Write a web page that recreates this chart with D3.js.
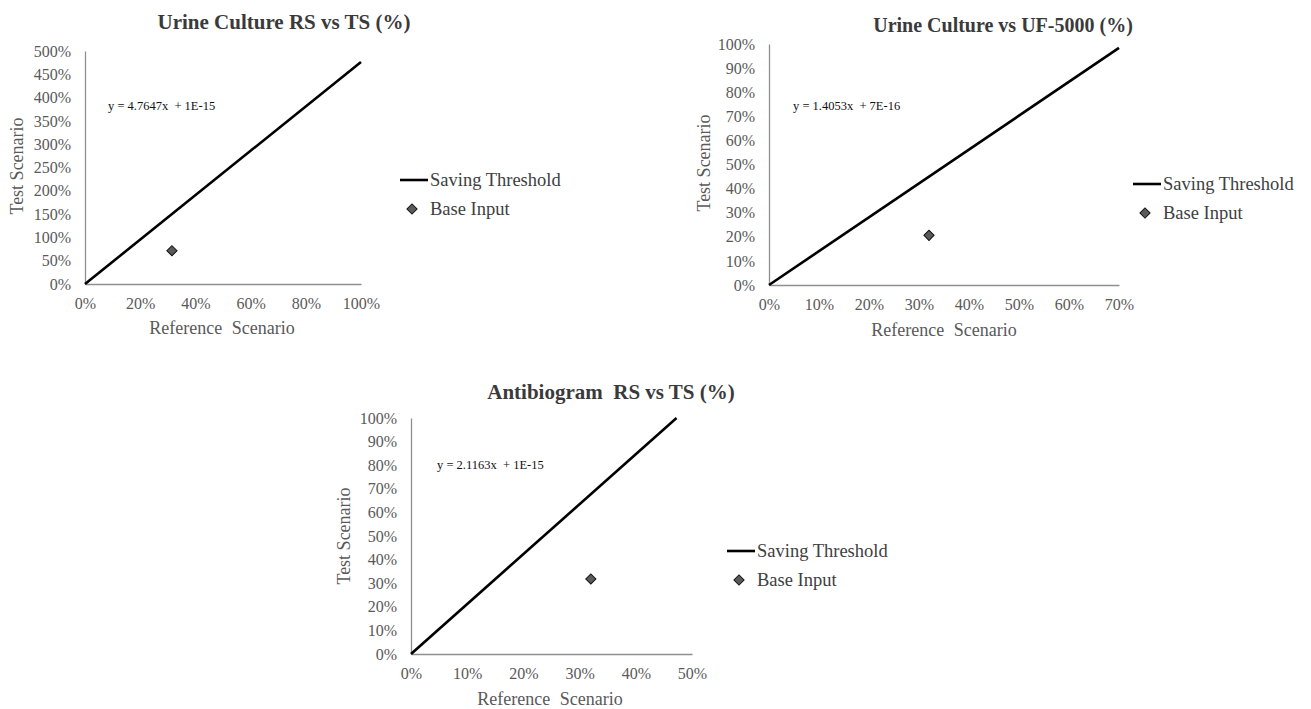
<!DOCTYPE html>
<html>
<head>
<meta charset="utf-8">
<script src="https://cdn.jsdelivr.net/npm/d3@7"></script>
<style>
  body { margin: 0; background: #fff; }
  text { font-family: "Liberation Serif", "Times New Roman", serif; }
</style>
</head>
<body>
<div id="chart"></div>
<script>
// chart values
let titles = ["Urine Culture RS vs TS (%)", "Urine Culture vs UF-5000 (%)", "Antibiogram  RS vs TS (%)"]
let equations = ["y = 4.7647x  + 1E-15", "y = 1.4053x  + 7E-16", "y = 2.1163x  + 1E-15"]
let xDomains = [[0, 1.0], [0, 0.7], [0, 0.5]]
let yDomains = [[0, 5.0], [0, 1.0], [0, 1.0]]
let xTicks = [
    [0, 0.2, 0.4, 0.6, 0.8, 1.0],
    [0, 0.1, 0.2, 0.3, 0.4, 0.5, 0.6, 0.7],
    [0, 0.1, 0.2, 0.3, 0.4, 0.5]
]
let yTicks = [
    [0, 0.5, 1.0, 1.5, 2.0, 2.5, 3.0, 3.5, 4.0, 4.5, 5.0],
    [0, 0.1, 0.2, 0.3, 0.4, 0.5, 0.6, 0.7, 0.8, 0.9, 1.0],
    [0, 0.1, 0.2, 0.3, 0.4, 0.5, 0.6, 0.7, 0.8, 0.9, 1.0]
]
// saving threshold line end points (x, y)
let thresholdLines = [
    [[0, 0], [1.0, 4.7647]],
    [[0, 0], [0.7, 0.9837]],
    [[0, 0], [0.4725, 1.0]]
]
// base input point (x, y)
let baseInputs = [[0.315, 0.714], [0.32, 0.206], [0.32, 0.318]]
let legendLabels = ["Saving Threshold", "Base Input"]

// where each panel sits on the page
let layout = [
    {left: 85, right: 361, bottom: 284, top: 51, titleX: 284, titleY: 22, titleSize: 21,
        eqX: 108, eqY: 106, yLabX: 17, yLabY: 166, xLabX: 222, xLabY: 328, legX: 400, legY: 180},
    {left: 769, right: 1119, bottom: 285, top: 44, titleX: 1003, titleY: 25, titleSize: 20,
        eqX: 793, eqY: 106, yLabX: 704, yLabY: 163, xLabX: 944, xLabY: 330, legX: 1133, legY: 184},
    {left: 411, right: 692, bottom: 654, top: 418, titleX: 611, titleY: 392, titleSize: 21,
        eqX: 437, eqY: 465, yLabX: 344, yLabY: 536, xLabX: 550, xLabY: 699, legX: 727, legY: 551}
]

let svg = d3.select("#chart")
    .append("svg")
    .attr("width", 1311)
    .attr("height", 709)

let pct = d3.format(".0%")
let diamond = d3.symbol().type(d3.symbolSquare).size(52)

layout.forEach((L, i) => {
    let g = svg.append("g")

    let x = d3.scaleLinear().domain(xDomains[i]).range([L.left, L.right])
    let y = d3.scaleLinear().domain(yDomains[i]).range([L.bottom, L.top])

    // X axis
    let xAxis = g.append("g")
        .attr("transform", "translate(0," + L.bottom + ")")
        .call(d3.axisBottom(x).tickValues(xTicks[i]).tickFormat(pct).tickSize(0).tickSizeOuter(0).tickPadding(14))
    // Y axis
    let yAxis = g.append("g")
        .attr("transform", "translate(" + L.left + ",0)")
        .call(d3.axisLeft(y).tickValues(yTicks[i]).tickFormat(pct).tickSize(0).tickSizeOuter(0).tickPadding(14))

    g.selectAll(".domain").attr("stroke", "#8f8f8f").attr("stroke-width", 1.3)
    g.selectAll(".tick text")
        .attr("fill", "#595959")
        .style("font-size", "16px")
        .style("font-family", "'Liberation Serif', serif")

    // title
    g.append("text")
        .attr("x", L.titleX)
        .attr("y", L.titleY)
        .attr("dy", "0.35em")
        .attr("text-anchor", "middle")
        .attr("fill", "#3a3a3a")
        .style("font-weight", "bold")
        .style("font-size", L.titleSize + "px")
        .style("white-space", "pre")
        .text(titles[i])

    // axis titles
    g.append("text")
        .attr("transform", "translate(" + L.yLabX + "," + L.yLabY + ")rotate(-90)")
        .attr("dy", "0.35em")
        .attr("text-anchor", "middle")
        .attr("fill", "#595959")
        .style("font-size", "18px")
        .text("Test Scenario")
    g.append("text")
        .attr("x", L.xLabX)
        .attr("y", L.xLabY)
        .attr("dy", "0.35em")
        .attr("text-anchor", "middle")
        .attr("fill", "#595959")
        .style("font-size", "18px")
        .style("word-spacing", "5px")
        .text("Reference Scenario")

    // threshold line
    g.append("path")
        .datum(thresholdLines[i])
        .attr("fill", "none")
        .attr("stroke", "#000")
        .attr("stroke-width", 2.6)
        .attr("d", d3.line().x(d => x(d[0])).y(d => y(d[1])))

    // base input
    g.append("path")
        .attr("d", diamond)
        .attr("transform", "translate(" + x(baseInputs[i][0]) + "," + y(baseInputs[i][1]) + ")rotate(45)")
        .attr("fill", "#5a5a5a")
        .attr("stroke", "#111")
        .attr("stroke-width", 1)

    // trendline equation
    g.append("text")
        .attr("x", L.eqX)
        .attr("y", L.eqY)
        .attr("dy", "0.35em")
        .attr("fill", "#111")
        .style("font-size", "12.5px")
        .style("white-space", "pre")
        .text(equations[i])

    // legend
    g.append("line")
        .attr("x1", L.legX).attr("x2", L.legX + 28)
        .attr("y1", L.legY).attr("y2", L.legY)
        .attr("stroke", "#000")
        .attr("stroke-width", 2.6)
    g.append("path")
        .attr("d", diamond)
        .attr("transform", "translate(" + (L.legX + 12) + "," + (L.legY + 29) + ")rotate(45)")
        .attr("fill", "#5a5a5a")
        .attr("stroke", "#111")
        .attr("stroke-width", 1)
    legendLabels.forEach((lab, k) => {
        g.append("text")
            .attr("x", L.legX + 30)
            .attr("y", L.legY + k * 29)
            .attr("dy", "0.35em")
            .attr("fill", "#404040")
            .style("font-size", "18.5px")
            .text(lab)
    })
})
</script>
</body>
</html>
